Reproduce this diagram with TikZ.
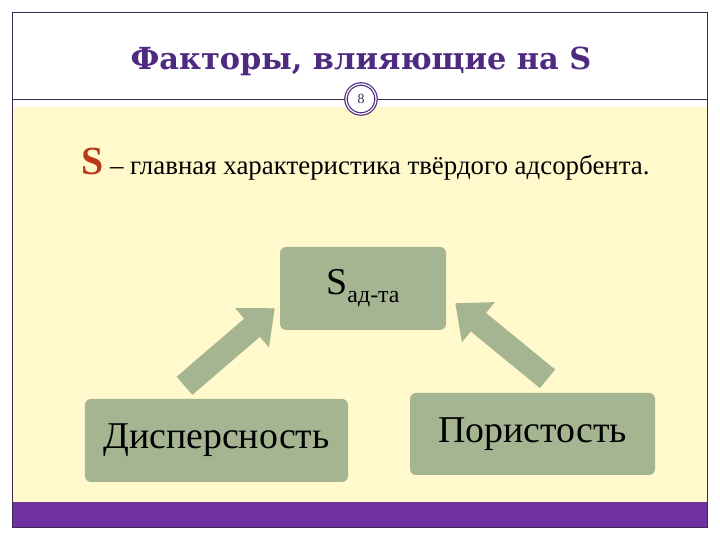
\documentclass[tikz,border=0pt]{standalone}
\usepackage{fontspec}
\setmainfont{Liberation Serif}
\newfontfamily\titlefont{DejaVu Serif}
\usetikzlibrary{arrows.meta}
\definecolor{framec}{HTML}{3D2B52}
\definecolor{titlec}{HTML}{4E2A80}
\definecolor{paper}{HTML}{FFF9CC}
\definecolor{barc}{HTML}{7030A0}
\definecolor{sage}{HTML}{A5B592}
\definecolor{sred}{HTML}{B8381C}

\begin{document}
\begin{tikzpicture}[x=1bp,y=1bp,every node/.style={inner sep=0pt},box/.style={draw=none, fill=sage, rounded corners=6bp, align=center, font=\fontsize{38}{42}\selectfont},bigarrow/.style={draw=sage, line width=24bp, -{Triangle[width=50bp,length=30bp]}}]
\useasboundingbox (0,0) rectangle (720,540);
\fill[white] (0,0) rectangle (720,540);
\fill[paper] (12,38) rectangle (707,433);
\fill[barc] (12,13) rectangle (707,38);
\draw[framec, line width=0.8bp] (12,13) rectangle (707,528);
\draw[framec, line width=0.8bp] (12,441) -- (707,441);
\node[circle, draw=titlec, double=white, double distance=1.2bp, line width=1.2bp, fill=white, minimum size=30bp, font=\fontsize{14}{16}\selectfont, text=framec] (pg) at (361,441) {8};
\node[font=\titlefont\bfseries\fontsize{30.5}{35}\selectfont, text=titlec] (title) at (361,479) {Факторы, влияющие на S};
\node[anchor=base west, font=\fontsize{27}{31}\selectfont] (defn) at (81,365) {{\fontsize{40}{44}\selectfont\bfseries\color{sred}S}\ – главная характеристика твёрдого адсорбента.};
\node[box, minimum width=166bp, minimum height=83bp] (sad) at (363,251.5) {S\raisebox{-8bp}{\fontsize{24}{28}\selectfont ад-та}};
\node[box, minimum width=263bp, minimum height=83bp] (disp) at (216.5,99.5) {Дисперсность};
\node[box, minimum width=245bp, minimum height=82bp] (por) at (532.5,106) {Пористость};
\draw[bigarrow] ([shift={(-32,13)}]disp.north) -- ([shift={(-5,22)}]sad.south west);
\draw[bigarrow] ([shift={(15,14)}]por.north) -- ([shift={(9,27)}]sad.south east);
\end{tikzpicture}
\end{document}
